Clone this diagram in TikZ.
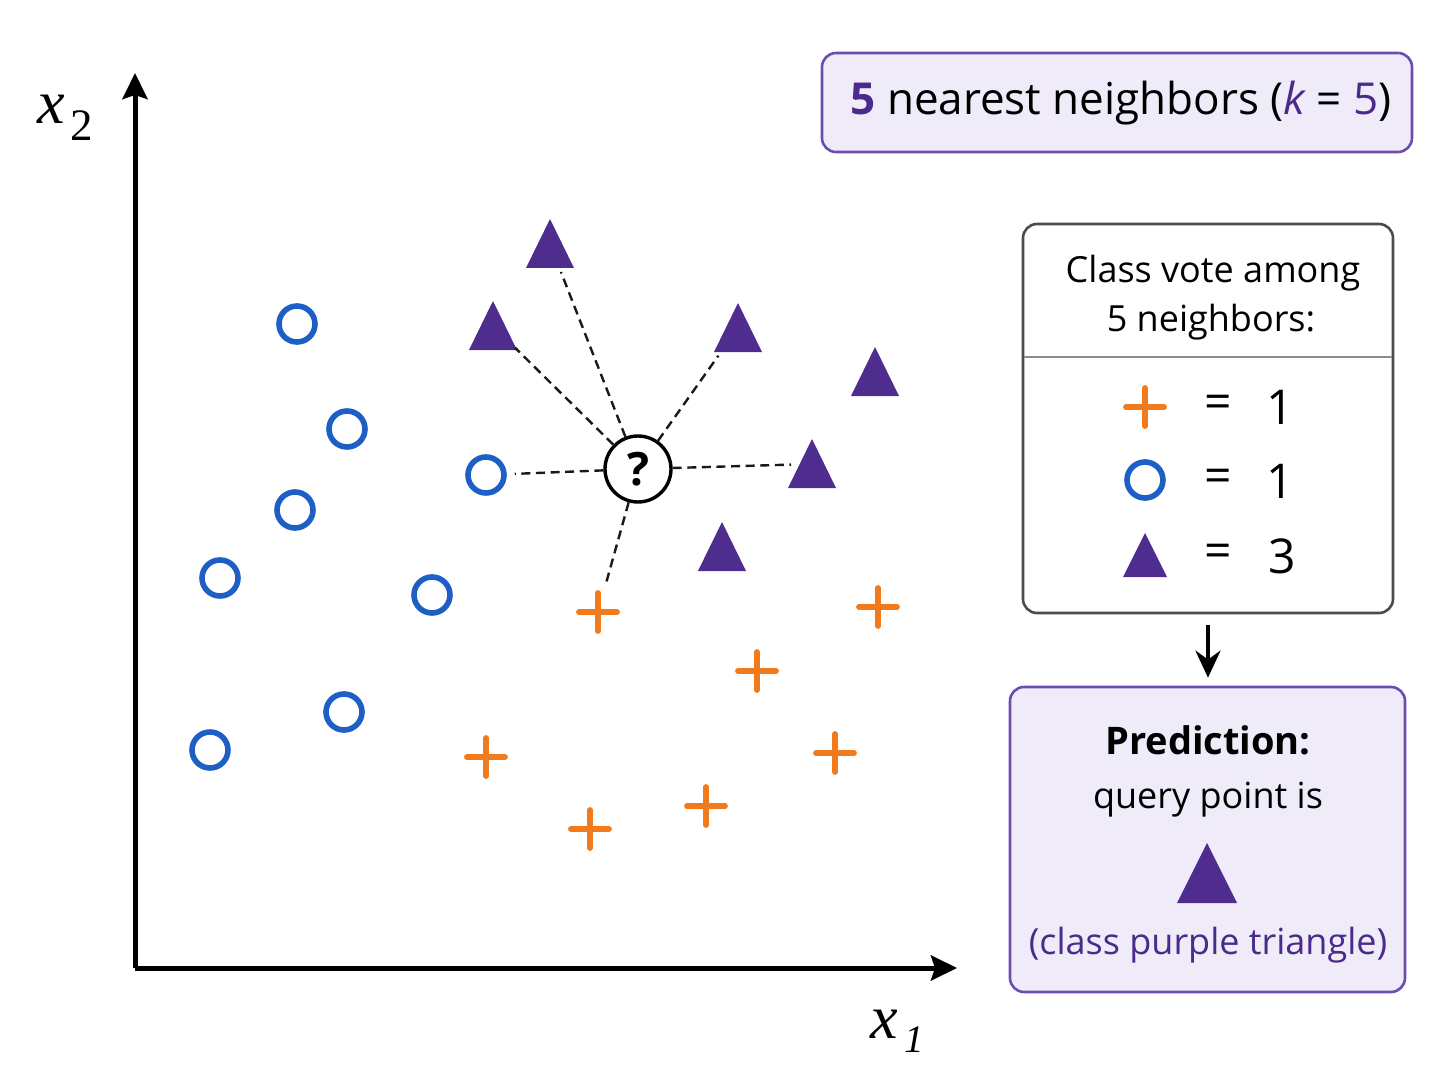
\documentclass[tikz,border=0pt]{standalone}
\usepackage{fontspec}
\setmainfont{Open Sans}
\newfontfamily\axserif{Liberation Serif}
\usetikzlibrary{arrows.meta}
\definecolor{ptblue}{HTML}{1E5FC6}
\definecolor{ptorange}{HTML}{F07A1C}
\definecolor{ptpurple}{HTML}{4F2D8F}
\definecolor{boxpurple}{HTML}{6B4DB0}
\definecolor{boxfill}{HTML}{EFEBF8}
\definecolor{txtpurple}{HTML}{4A2A8A}
\tikzset{
  bluept/.style={circle,draw=ptblue,line width=2.8pt,minimum size=18pt,inner sep=0pt},
  plusst/.style={draw=ptorange,line width=2.9pt,line cap=round},
  trist/.style={fill=ptpurple},
  axisst/.style={line width=2.5pt,-{Stealth[length=13pt,width=12.5pt,inset=2pt]}},
  nbline/.style={draw=black!90,line width=1.2pt,dash pattern=on 4.5pt off 2.8pt},
  querynode/.style={circle,draw=black,line width=1.7pt,fill=white,minimum size=33pt,inner sep=0pt,font=\fontsize{23}{23}\selectfont\bfseries},
  purplebox/.style={draw=boxpurple,fill=boxfill,line width=1.3pt,rounded corners=7pt},
  graybox/.style={draw=black!70,fill=white,line width=1.3pt,rounded corners=7pt},
  bodytxt/.style={font=\fontsize{18}{18}\selectfont,inner sep=0pt},
  rowtxt/.style={font=\fontsize{24}{24}\selectfont,inner sep=0pt}
}
\begin{document}
\begin{tikzpicture}[x=0.5pt,y=-0.5pt]
\useasboundingbox (0,0) rectangle (1448,1086);
% axes
\coordinate (o) at (135,968);
\coordinate (ytip) at (135,73);
\coordinate (xtip) at (957,968);
\draw[axisst] (o) -- (ytip);
\draw[axisst] (o) -- (xtip);
\node[anchor=base west,inner sep=0pt] (lx2) at (37,124)
  {\axserif{\fontsize{31}{31}\selectfont\itshape x}\kern3pt\raisebox{-8.5pt}{\fontsize{22.5}{22.5}\selectfont 2}};
\node[anchor=base west,inner sep=0pt] (lx1) at (870,1038)
  {\axserif{\fontsize{31}{31}\selectfont\itshape x}\kern3.5pt\raisebox{-7pt}{\fontsize{19.5}{19.5}\selectfont\itshape 1}};
% blue circles
\node[bluept] (b1) at (297,324) {};
\node[bluept] (b2) at (347,429) {};
\node[bluept] (b3) at (295,510) {};
\node[bluept] (b4) at (220,578) {};
\node[bluept] (b5) at (432,595) {};
\node[bluept] (b6) at (344,712) {};
\node[bluept] (b7) at (210,750) {};
\node[bluept] (b8) at (486,475) {};
% triangles
\foreach \n/\x/\y in {t1/550/244, t2/493/326, t3/738/328, t4/875/372, t5/812/464, t6/722/547}{
  \coordinate (\n) at (\x,\y);
  \fill[trist] (\n) ++(0,-25) -- ++(24,49) -- ++(-48,0) -- cycle;
}
% pluses
\foreach \n/\x/\y in {p1/598/612, p2/878/607, p3/757/671, p4/486/757, p5/835/753, p6/706/806, p7/590/829}{
  \coordinate (\n) at (\x,\y);
  \draw[plusst] (\n) ++(-19,0) -- ++(38,0) (\n) ++(0,-19) -- ++(0,38);
}
% query
\node[querynode] (q) at (638,469) {?};
\draw[nbline,shorten >=4pt] (q) -- (b8);
\draw[nbline,shorten >=15pt] (q) -- (t1);
\draw[nbline,shorten >=15.5pt] (q) -- (t2);
\draw[nbline,shorten >=17pt] (q) -- (t3);
\draw[nbline,shorten >=10.5pt] (q) -- (t5);
\draw[nbline,shorten >=13.5pt] (q) -- (p1);
% title box
\node[purplebox,minimum width=295pt,minimum height=49.5pt] (title) at (1117,102.5) {};
\node[inner sep=0pt,font=\fontsize{22}{22}\selectfont] (titletxt) at (1121,103)
  {\textcolor{txtpurple}{\bfseries 5} nearest neighbors (\textcolor{txtpurple}{\itshape k} = \textcolor{txtpurple}{5})};
% vote box
\node[graybox,minimum width=185pt,minimum height=194.5pt] (vote) at (1208,418.5) {};
\coordinate (dl) at (1024,357);
\coordinate (dr) at (1392,357);
\draw[black!45,line width=1pt] (dl) -- (dr);
\node[bodytxt] (v1) at (1213,273) {Class vote among};
\node[bodytxt] (v2) at (1211,322) {5 neighbors:};
\coordinate (vp) at (1145,407);
\draw[plusst] (vp) ++(-19,0) -- ++(38,0) (vp) ++(0,-19) -- ++(0,38);
\node[bluept] (vc) at (1145,480) {};
\coordinate (vt) at (1145,555);
\fill[trist] (vt) ++(0,-22) -- ++(22,44) -- ++(-44,0) -- cycle;
\node[rowtxt] (e1) at (1218,407) {=};
\node[rowtxt] (e2) at (1218,481) {=};
\node[rowtxt] (e3) at (1218,556) {=};
\node[rowtxt] (n1) at (1280,407) {1};
\node[rowtxt] (n2) at (1280,481) {1};
\node[rowtxt] (n3) at (1282,556) {3};
% prediction box
\node[purplebox,minimum width=197.5pt,minimum height=152.5pt] (pred) at (1207.5,839.5) {};
\draw[line width=2pt,-{Stealth[length=13.5pt,width=12.5pt]},shorten <=5.5pt,shorten >=4pt] (vote.south -| 1208,0) -- (pred.north -| 1208,0);
\node[bodytxt,font=\fontsize{19}{19}\selectfont\bfseries] (pr1) at (1208,740) {Prediction:};
\node[bodytxt] (pr2) at (1208,800) {query point is};
\coordinate (pt) at (1207,873);
\fill[trist] (pt) ++(0,-30) -- ++(30,60) -- ++(-60,0) -- cycle;
\node[bodytxt,text=txtpurple] (pr3) at (1208,945) {(class purple triangle)};
\end{tikzpicture}
\end{document}
